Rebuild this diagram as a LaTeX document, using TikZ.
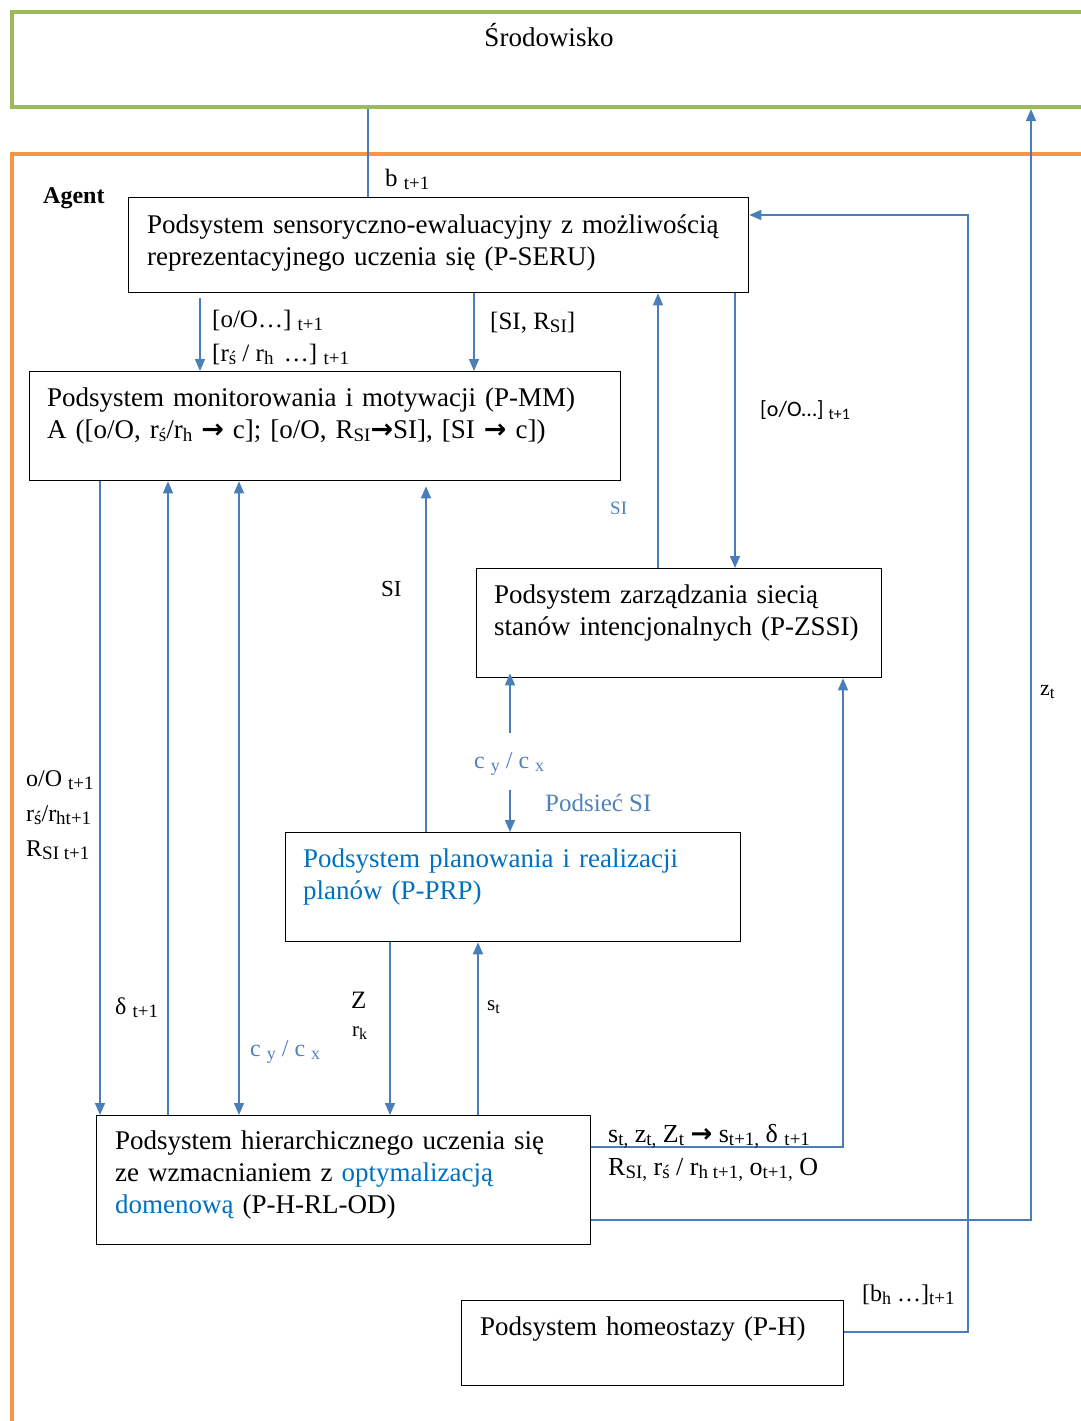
\documentclass[tikz,border=0pt]{standalone}
\usepackage{fontspec}
\setmainfont{Liberation Serif}
\newfontfamily\symf{DejaVu Sans}
\newfontfamily\calf{Carlito}
\usetikzlibrary{arrows.meta}
\definecolor{envgreen}{RGB}{155,187,89}
\definecolor{agentorange}{RGB}{247,150,70}
\definecolor{lineblue}{RGB}{74,126,187}
\definecolor{prpblue}{RGB}{0,112,192}
\definecolor{lblblue}{RGB}{79,129,189}
% lowered, smaller index text
\newcommand\lo[2][19]{\raisebox{-3pt}{\fontsize{#1}{#1}\selectfont #2}}
\newcommand\arr{{\symf\bfseries →}}
\begin{document}
\begin{tikzpicture}[x=1pt,y=-1pt,
  box/.style={draw=black, line width=1.3pt, anchor=north west, inner sep=0pt},
  boxtext/.style={anchor=base west, align=left, inner sep=0pt, text width=#1,
    font=\fontsize{27}{32}\selectfont},
  lbl/.style={anchor=base west, inner sep=0pt, font=\fontsize{25}{32}\selectfont},
  conn/.style={draw=lineblue, line width=1.4pt},
  tip/.style={conn, -{Triangle[length=12pt,width=10pt]}},
  dtip/.style={conn, {Triangle[length=12pt,width=10pt]}-{Triangle[length=12pt,width=10pt]}}]
\useasboundingbox (0,0) rectangle (1081,1421);

% environment and agent frames (open to the right edge)
\node[draw=envgreen, line width=4pt, anchor=north west, inner sep=0pt,
      minimum width=1078pt, minimum height=95pt] (env) at (10,10) {};
\node[anchor=base, inner sep=0pt, font=\fontsize{27}{32}\selectfont] (envt) at (549,47) {Środowisko};
\node[draw=agentorange, line width=4pt, anchor=north west, inner sep=0pt,
      minimum width=1100pt, minimum height=1300pt] (agent) at (10,152) {};
\node[anchor=base west, inner sep=0pt, font=\fontsize{24}{28}\selectfont\bfseries] (agentt) at (43,203) {Agent};

% subsystems
\node[box, minimum width=620pt, minimum height=95pt] (seru) at (128,197) {};
\node[boxtext=600pt] (serut) at (147,233) {Podsystem sensoryczno-ewaluacyjny z możliwością\\reprezentacyjnego uczenia się (P-SERU)};

\node[box, minimum width=591pt, minimum height=109pt] (mm) at (29,371) {};
\node[boxtext=575pt] (mmt) at (47,406) {Podsystem monitorowania i motywacji (P-MM)\\A ([o/O, r\lo{ś}/r\lo{h} \arr{} c]; [o/O, R\lo{SI}\arr{}SI], [SI \arr{} c])};

\node[box, minimum width=405pt, minimum height=109pt] (zssi) at (476,568) {};
\node[boxtext=390pt] (zssit) at (494,603) {Podsystem zarządzania siecią\\stanów intencjonalnych (P-ZSSI)};

\node[box, minimum width=455pt, minimum height=109pt] (prp) at (285,832) {};
\node[boxtext=430pt, text=prpblue] (prpt) at (303,867) {Podsystem planowania i realizacji\\planów (P-PRP)};

\node[box, minimum width=494pt, minimum height=129pt] (hrl) at (96,1115) {};
\node[boxtext=470pt] (hrlt) at (115,1149) {Podsystem hierarchicznego uczenia się\\ze wzmacnianiem z \textcolor{prpblue}{optymalizacją}\\\textcolor{prpblue}{domenową} (P-H-RL-OD)};

\node[box, minimum width=382pt, minimum height=85pt] (ph) at (461,1300) {};
\node[boxtext=360pt] (pht) at (480,1335) {Podsystem homeostazy (P-H)};

% helper columns and rows
\coordinate (x100) at (100,0);
\coordinate (x168) at (168,0);
\coordinate (x200) at (200,0);
\coordinate (x239) at (239,0);
\coordinate (x368) at (368,0);
\coordinate (x390) at (390,0);
\coordinate (x426) at (426,0);
\coordinate (x474) at (474,0);
\coordinate (x478) at (478,0);
\coordinate (x658) at (658,0);
\coordinate (x735) at (735,0);
\coordinate (x843) at (843,0);
\coordinate (x968) at (968,0);
\coordinate (x1031) at (1031,0);
\coordinate (y215) at (0,215);
\coordinate (y1147) at (0,1147);
\coordinate (y1220) at (0,1220);
\coordinate (y1332) at (0,1332);
\coordinate (cyA) at (510,733);
\coordinate (cyB) at (510,790);

% environment <-> agent
\draw[conn] (x368 |- env.south) -- (x368 |- seru.north);
\draw[tip] (hrl.east |- y1220) -- (x1031 |- y1220) -- (x1031 |- env.south);
\draw[tip] (ph.east |- y1332) -- (x968 |- y1332) -- (x968 |- y215) -- (seru.east |- y215);

% P-SERU links
\draw[tip] ([yshift=-5pt]x200 |- seru.south) -- (x200 |- mm.north);
\draw[tip] (x474 |- seru.south) -- (x474 |- mm.north);
\draw[tip] (x658 |- zssi.north) -- (x658 |- seru.south);
\draw[tip] (x735 |- seru.south) -- (x735 |- zssi.north);

% P-MM <-> P-H-RL-OD and P-PRP
\draw[tip] (x100 |- mm.south) -- (x100 |- hrl.north);
\draw[tip] (x168 |- hrl.north) -- (x168 |- mm.south);
\draw[dtip] (x239 |- mm.south) -- (x239 |- hrl.north);
\draw[tip] (x426 |- prp.north) -- ([yshift=-5pt]x426 |- mm.south);

% P-PRP <-> P-H-RL-OD
\draw[tip] (x390 |- prp.south) -- (x390 |- hrl.north);
\draw[tip] (x478 |- hrl.north) -- (x478 |- prp.south);

% P-ZSSI <-> P-PRP
\draw[tip] (cyA) -- ([yshift=5pt]cyA |- zssi.south);
\draw[tip] (cyB) -- (cyB |- prp.north);

% P-H-RL-OD -> P-ZSSI
\draw[tip] (hrl.east |- y1147) -- (x843 |- y1147) -- (x843 |- zssi.south);

% labels
\node[lbl] (lb) at (385,186) {b \lo{t+1}};
\node[lbl] (loo) at (212,327) {[o/O…] \lo{t+1}};
\node[lbl] (lrr) at (212,361) {[r\lo{ś} / r\lo{h} \,…] \lo{t+1}};
\node[lbl] (lsi) at (490,329) {[SI, R\lo{SI}]};
\node[lbl, font=\calf\fontsize{22}{26}\selectfont] (loo2) at (760,416) {[o/O…] \lo[16]{t+1}};
\node[lbl, text=lblblue, font=\fontsize{19}{22}\selectfont] (lsi2) at (610,514) {SI};
\node[lbl, font=\fontsize{23}{28}\selectfont] (lsi3) at (381,596) {SI};
\node[lbl, text=lblblue, font=\fontsize{24}{28}\selectfont] (lcy1) at (474,768) {c \lo[18]{y} / c \lo[18]{x}};
\node[lbl, text=lblblue, font=\fontsize{25}{30}\selectfont] (lpod) at (545,811) {Podsieć SI};
\node[lbl, font=\fontsize{24}{28}\selectfont] (lo1) at (26,786) {o/O \lo{t+1}};
\node[lbl, font=\fontsize{24}{28}\selectfont] (lo2) at (26,821) {r\lo{ś}/r\lo{h}\lo{t+1}};
\node[lbl, font=\fontsize{24}{28}\selectfont] (lo3) at (26,856) {R\lo{SI}\lo{ t+1}};
\node[lbl, font=\fontsize{24}{28}\selectfont] (ld) at (115,1014) {δ \lo{t+1}};
\node[lbl, text=lblblue, font=\fontsize{24}{28}\selectfont] (lcy2) at (250,1056) {c \lo[18]{y} / c \lo[18]{x}};
\node[lbl] (lz) at (351,1008) {Z};
\node[lbl, font=\fontsize{21}{24}\selectfont] (lrk) at (352,1036) {r\lo[16]{k}};
\node[lbl, font=\fontsize{21}{24}\selectfont] (lst) at (487,1010) {s\lo[16]{t}};
\node[lbl, font=\fontsize{26}{32}\selectfont] (lsz) at (608,1142) {s\lo{t,} z\lo{t,} Z\lo{t} \arr{} s\lo{t+1,} δ \lo{t+1}};
\node[lbl, font=\fontsize{26}{32}\selectfont] (lrs) at (608,1175) {R\lo{SI,} r\lo{ś} / r\lo{h t+1,} o\lo{t+1,} O};
\node[lbl, font=\fontsize{22}{28}\selectfont] (lzt) at (1040,695) {z\lo[17]{t}};
\node[lbl, font=\fontsize{24}{28}\selectfont] (lbh) at (862,1301) {[b\lo[18]{h} …]\lo{t+1}};
\end{tikzpicture}
\end{document}
